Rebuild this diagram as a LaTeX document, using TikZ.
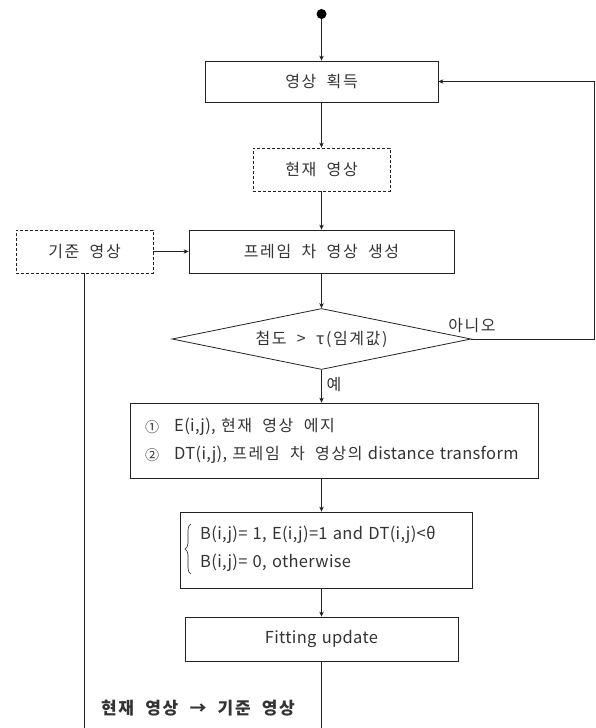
\documentclass[tikz,border=0pt]{standalone}
\usepackage{fontspec}
\setmainfont[WordSpace=1.3,LetterSpace=2]{Noto Sans CJK KR}
\newfontfamily\hangulfont[LetterSpace=10,WordSpace=2]{Noto Sans CJK KR}
\newcommand\Kr[1]{{\hangulfont\fontsize{16}{18}\selectfont #1}}
\newcommand\KrB[1]{{\hangulfont\bfseries\fontsize{17}{19}\selectfont #1}}
\usetikzlibrary{shapes.geometric,arrows.meta,decorations.pathreplacing}
\definecolor{lc}{HTML}{222222}
\definecolor{tc}{HTML}{333333}
\begin{document}
\begin{tikzpicture}[x=1pt,y=-1pt,
  txt/.style={inner sep=0pt, text=tc, font=\fontsize{16.5}{18}\selectfont},
  box/.style={txt, draw=lc, line width=0.8pt, rectangle},
  dbox/.style={box, dash pattern=on 3pt off 2pt},
  arr/.style={draw=lc, line width=0.7pt, -{Stealth[length=5pt,width=4.5pt]}},
  ln/.style={draw=lc, line width=0.7pt}]
\useasboundingbox (0,0) rectangle (596,728);
% nodes
\node[circle, fill=black, inner sep=0pt, minimum size=10pt] (start) at (321.5,14) {};
\node[box, minimum width=233pt, minimum height=41pt] (acq) at (321.5,81.5) {\Kr{영상 획득}};
\node[dbox, minimum width=137pt, minimum height=43pt] (cur) at (321.5,169.5) {\Kr{현재 영상}};
\node[dbox, minimum width=137pt, minimum height=43pt] (ref) at (84.5,251.5) {\Kr{기준 영상}};
\node[box, minimum width=265pt, minimum height=43pt] (frame) at (321.5,251.5) {\Kr{프레임 차 영상 생성}};
\node[txt, draw=lc, line width=0.8pt, diamond, aspect=4.9, minimum width=299pt, minimum height=61pt] (dec) at (321.5,339) {\Kr{첨도 > τ(임계값)}};
\node[box, minimum width=408pt, minimum height=75pt] (lst) at (334,440.5) {};
\node[txt, font=\fontsize{14}{16}\selectfont] (c1) at (152,427) {①};
\node[txt, anchor=west] (l1) at (174,427) {E(i,j), \Kr{현재 영상 에지}};
\node[txt, font=\fontsize{14}{16}\selectfont] (c2) at (152,455) {②};
\node[txt, anchor=west] (l2) at (174,455) {DT(i,j), \Kr{프레임 차 영상의} distance transform};
\node[box, minimum width=292pt, minimum height=76pt] (bb) at (326,550) {};
\node[txt, anchor=west] (b1) at (200,535) {B(i,j)= 1, E(i,j)=1 and DT(i,j)<θ};
\node[txt, anchor=west] (b2) at (200,563) {B(i,j)= 0, otherwise};
\draw[ln, line width=0.6pt, decoration={brace, amplitude=6pt, aspect=0.5}, decorate] (191,574) -- (191,524);
\node[box, minimum width=273pt, minimum height=44pt] (fit) at (321.5,639) {Fitting update};
\node[txt] (swap) at (198,708) {\KrB{현재 영상 → 기준 영상}};
\node[txt] (no) at (472,326) {\Kr{아니오}};
\node[txt] (yes) at (334,385) {\Kr{예}};
% connectors
\coordinate (fbr) at (594,339);
\coordinate (bl) at (84.5,728);
\draw[arr] (start) -- (acq);
\draw[arr] (acq) -- (cur);
\draw[arr] (cur) -- (frame);
\draw[arr] (ref) -- (frame);
\draw[arr] (frame) -- (dec);
\draw[arr] (dec.south) -- (dec.south |- lst.north);
\draw[arr] (dec.south |- lst.south) -- (dec.south |- bb.north);
\draw[arr] (dec.south |- bb.south) -- (fit.north);
\draw[arr] (dec.east) -- (fbr) |- (acq.east);
\draw[ln] (ref.south) -- (bl);
\draw[ln] (fit.south) -- (fit.south |- bl);
\end{tikzpicture}
\end{document}
